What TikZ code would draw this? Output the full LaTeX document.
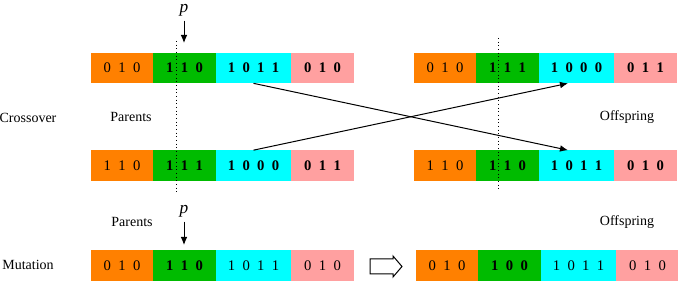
\documentclass[tikz,border=0pt]{standalone}
\usepackage{fontspec}
\setmainfont{Liberation Serif}
\usetikzlibrary{positioning,arrows.meta}

\begin{document}
\begin{tikzpicture}[x=0.75pt,y=-0.75pt,
		seg/.style={inner sep=0pt,outer sep=0pt,minimum height=23pt,
			font={\fontsize{11}{13}\selectfont\spaceskip=0.5em\relax}},
		segA/.style={seg,fill=geneorange,minimum width=46.5pt},
		segB/.style={seg,fill=genegreen,minimum width=47.25pt},
		segC/.style={seg,fill=genecyan,minimum width=56.25pt},
		segD/.style={seg,fill=genepink,minimum width=47.25pt},
		lbl/.style={font=\fontsize{10.5}{12}\selectfont},
		cutpt/.style={font=\fontsize{13}{15}\selectfont\itshape},
		cutline/.style={dotted,line width=0.75pt},
		swap/.style={line width=0.75pt,-{Latex[length=6pt,width=5pt]}}]
	\definecolor{geneorange}{RGB}{255,128,0}
	\definecolor{genegreen}{RGB}{0,187,0}
	\definecolor{genecyan}{RGB}{0,255,255}
	\definecolor{genepink}{RGB}{255,160,160}
	
	\useasboundingbox (0,0) rectangle (678,281);
	
	% ---------- Crossover: parents ----------
	\node[segA,anchor=west] (pa1) at (91,68) {0 1 0};
	\node[segB,right=0pt of pa1] (pa2) {\textbf{1 1 0}};
	\node[segC,right=0pt of pa2] (pa3) {\textbf{1 0 1 1}};
	\node[segD,right=0pt of pa3] (pa4) {\textbf{0 1 0}};
	
	\node[segA,anchor=west] (pb1) at (91,165.5) {1 1 0};
	\node[segB,right=0pt of pb1] (pb2) {\textbf{1 1 1}};
	\node[segC,right=0pt of pb2] (pb3) {\textbf{1 0 0 0}};
	\node[segD,right=0pt of pb3] (pb4) {\textbf{0 1 1}};
	
	% ---------- Crossover: offspring ----------
	\node[segA,anchor=west] (oa1) at (414,68) {0 1 0};
	\node[segB,right=0pt of oa1] (oa2) {\textbf{1 1 1}};
	\node[segC,right=0pt of oa2] (oa3) {\textbf{1 0 0 0}};
	\node[segD,right=0pt of oa3] (oa4) {\textbf{0 1 1}};
	
	\node[segA,anchor=west] (ob1) at (414,165.5) {1 1 0};
	\node[segB,right=0pt of ob1] (ob2) {\textbf{1 1 0}};
	\node[segC,right=0pt of ob2] (ob3) {\textbf{1 0 1 1}};
	\node[segD,right=0pt of ob3] (ob4) {\textbf{0 1 0}};
	
	% crossing point p
	\node[cutpt] (p1) at (184,10) {p};
	\coordinate (p1tip) at (184,43);
	\draw[swap] (p1.south) -- (p1tip);
	\draw[cutline] (176,41) -- (176,193);
	\draw[cutline] (498,38) -- (498,191);
	
	% swapped tails
	\draw[swap] (pa3.south) -- ([xshift=-6.4pt]ob3.north);
	\draw[swap] (pb3.north) -- ([xshift=-6.4pt]oa3.south);
	
	\node[lbl] (cross) at (28,118) {Crossover};
	\node[lbl] (par1) at (131,117) {Parents};
	\node[lbl] (off1) at (627,117) {Offspring};
	
	% ---------- Mutation ----------
	\node[segA,anchor=west] (ma1) at (91,265.5) {0 1 0};
	\node[segB,right=0pt of ma1] (ma2) {\textbf{1 1 0}};
	\node[segC,right=0pt of ma2] (ma3) {1 0 1 1};
	\node[segD,right=0pt of ma3] (ma4) {0 1 0};
	
	\node[segA,anchor=west] (mb1) at (416,265.5) {0 1 0};
	\node[segB,right=0pt of mb1] (mb2) {\textbf{1 0 0}};
	\node[segC,right=0pt of mb2] (mb3) {1 0 1 1};
	\node[segD,right=0pt of mb3] (mb4) {0 1 0};
	
	\node[cutpt] (p2) at (184,211) {p};
	\coordinate (p2tip) at (184,245);
	\draw[swap] (p2.south) -- (p2tip);
	
	% hollow block arrow
	\draw[line width=0.75pt,fill=white] (370,259) -- (393,259) -- (393,256) -- (402,266.5)
		-- (393,277) -- (393,274) -- (370,274) -- cycle;
	
	\node[lbl] (par2) at (132,222) {Parents};
	\node[lbl] (off2) at (627,222) {Offspring};
	\node[lbl] (mut) at (28,265) {Mutation};
	
\end{tikzpicture}
\end{document}
